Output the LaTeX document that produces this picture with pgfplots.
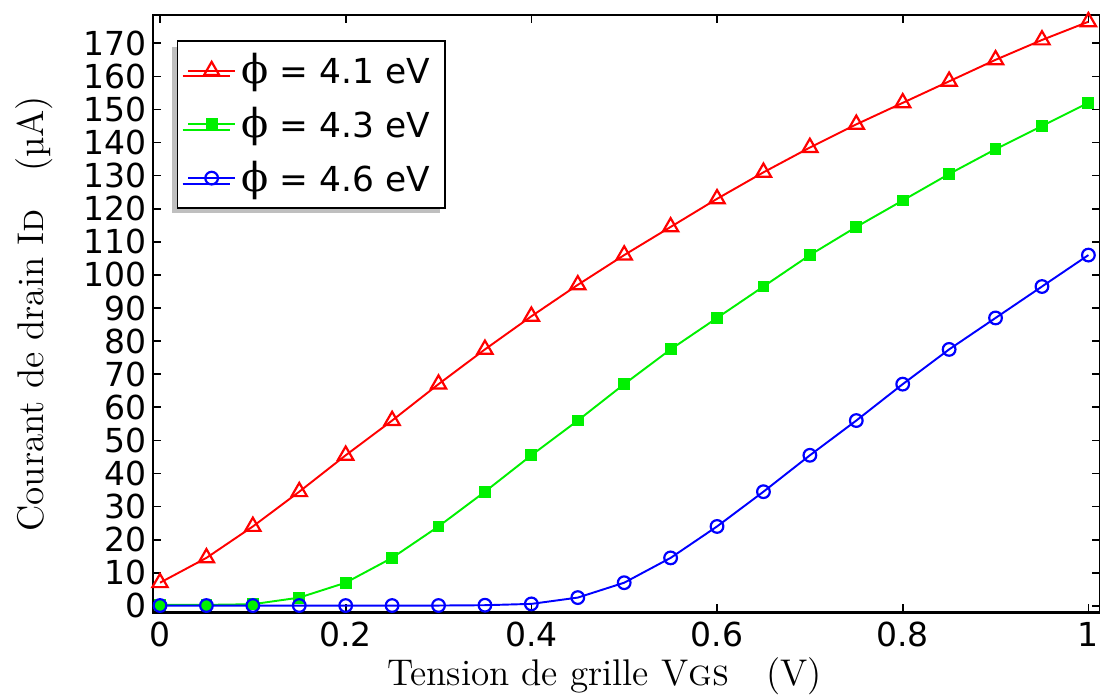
\documentclass[border=0pt]{standalone}
\usepackage{pgfplots}
\pgfplotsset{compat=1.18}
\usepackage{fontspec}
\newfontfamily\dejavu{DejaVu Sans}
\newfontfamily\dserif{DejaVu Serif}
\usetikzlibrary{shadows,calc}
\definecolor{cred}{RGB}{255,0,0}
\definecolor{cgreen}{RGB}{0,240,0}
\definecolor{cblue}{RGB}{0,0,255}
\newcommand{\phis}{{\dserif\fontsize{14.5}{14}\selectfont ϕ}}
\begin{document}
\begin{tikzpicture}
\begin{axis}[name=ax, scale only axis, width=344pt, height=217pt,
  xmin=-0.0075, xmax=1.0125, ymin=-2, ymax=178.5,
  xtick={0,0.2,0.4,0.6,0.8,1}, xticklabels={0,0.2,0.4,0.6,0.8,1},
  ytick={0,10,...,170},
  tick align=inside, major tick length=3pt,
  tick style={black, line width=0.6pt},
  axis line style={line width=0.8pt},
  /pgf/number format/assume math mode=true,
  ticklabel style={font=\dejavu\fontsize{12}{12}\selectfont},
  yticklabel style={xshift=1pt},
  xlabel={Tension de grille V\textsc{gs}\quad (V)},
  ylabel={Courant de drain I\textsc{d}\quad (µA)},
  label style={font=\fontsize{13.5}{13}\selectfont},
  xlabel style={yshift=3pt, xshift=-8pt},
  ylabel style={yshift=4pt},
  legend style={at={(0.025,0.958)}, anchor=north west, draw=black, line width=0.6pt,
    font=\dejavu\fontsize{12.5}{14}\selectfont, row sep=3pt, inner xsep=3.5pt, inner ysep=2.5pt,
    drop shadow={shadow xshift=-2pt, shadow yshift=-2pt, fill=gray!50, opacity=1}},
  legend cell align=left,
]
\addplot[cred, line width=0.7pt, mark=triangle, mark size=3.2pt, mark options={solid, line width=0.8pt}] coordinates {
(0,7) (0.05,14.5) (0.1,24) (0.15,34.5) (0.2,45.5) (0.25,56) (0.3,67) (0.35,77.5) (0.4,87.5) (0.45,97) (0.5,106) (0.55,114.5) (0.6,123) (0.65,131) (0.7,138.5) (0.75,145.5) (0.8,152) (0.85,158.5) (0.9,165) (0.95,171) (1,176.5)};
\addlegendentry{\phis\ = 4.1 eV}
\addplot[cgreen, line width=0.7pt, mark=square*, mark size=1.8pt] coordinates {
(0,0.3) (0.05,0.3) (0.1,0.5) (0.15,2.5) (0.2,7) (0.25,14.5) (0.3,24) (0.35,34.5) (0.4,45.5) (0.45,56) (0.5,67) (0.55,77.5) (0.6,87) (0.65,96.5) (0.7,106) (0.75,114.5) (0.8,122.5) (0.85,130.5) (0.9,138) (0.95,145) (1,152)};
\addlegendentry{\phis\ = 4.3 eV}
\addplot[cblue, line width=0.7pt, mark=o, mark size=2.3pt, mark options={solid, line width=0.8pt}] coordinates {
(0,0.1) (0.05,0.1) (0.1,0.1) (0.15,0.1) (0.2,0.1) (0.25,0.1) (0.3,0.1) (0.35,0.2) (0.4,0.6) (0.45,2.5) (0.5,7) (0.55,14.5) (0.6,24) (0.65,34.5) (0.7,45.5) (0.75,56) (0.8,67) (0.85,77.5) (0.9,87) (0.95,96.5) (1,106)};
\addlegendentry{\phis\ = 4.6 eV}
\end{axis}
\pgfresetboundingbox
\path[use as bounding box] ($(ax.south west)+(-55.6pt,-29.8pt)$) rectangle ($(ax.north east)+(0pt,5.5pt)$);
\end{tikzpicture}
\end{document}
